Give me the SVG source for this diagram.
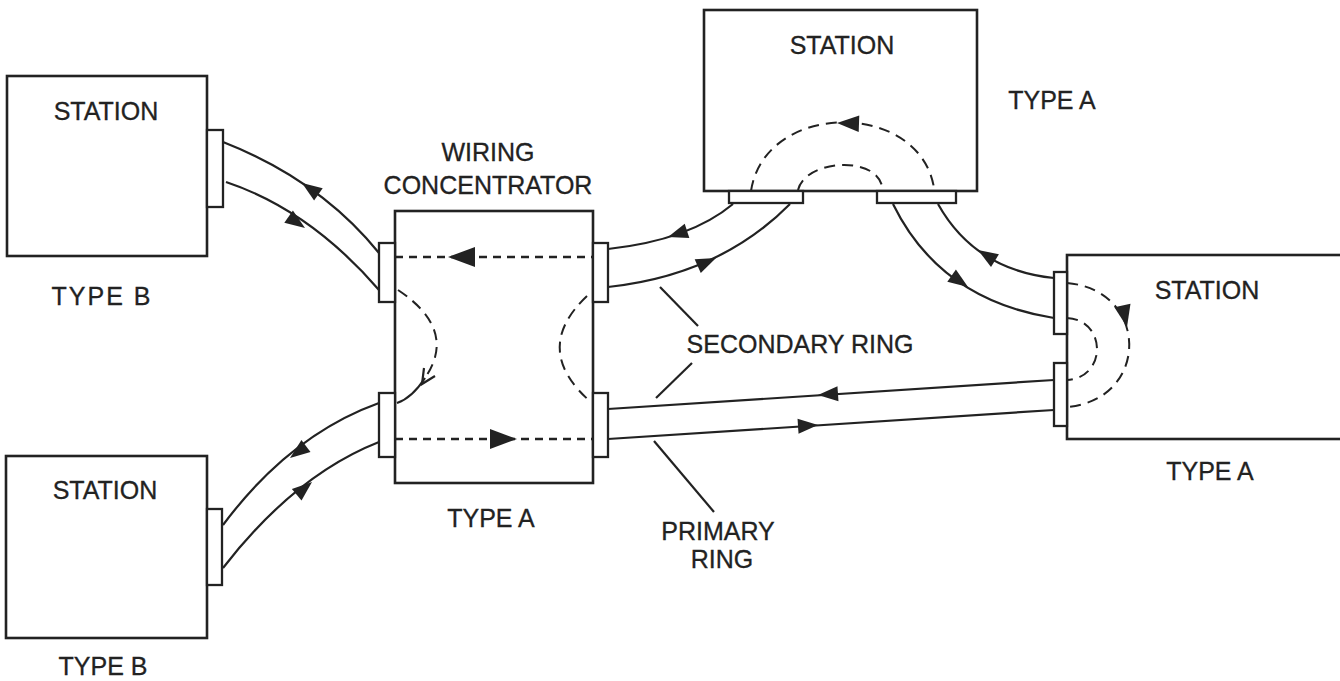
<svg xmlns="http://www.w3.org/2000/svg" width="1340" height="681" viewBox="0 0 1340 681">
<style>
.box{fill:#fff;stroke:#222;stroke-width:2.6}
.port{fill:#fff;stroke:#222;stroke-width:2.3}
.w{fill:none;stroke:#222;stroke-width:2.2}
.d{fill:none;stroke:#222;stroke-width:2.4;stroke-dasharray:8 6}
.dc{fill:none;stroke:#222;stroke-width:2;stroke-dasharray:11 7}
.ah{fill:#222}
text{font-family:"Liberation Sans",Arial,sans-serif;font-size:25px;fill:#222;stroke:#222;stroke-width:0.3;text-anchor:middle}
</style>
<defs>
<path id="a" d="M0,0 L-20,-7.5 L-20,7.5 Z"/>
<path id="A" d="M0,0 L-27,-10 L-27,10 Z"/>
</defs>
<g id="station-b1">
<rect class="box" x="7" y="76" width="200" height="180"/>
<rect class="port" x="207" y="130" width="16" height="77"/>
<text x="106" y="120">STATION</text>
<text x="102" y="305" letter-spacing="2">TYPE  B</text>
</g>
<g id="station-b2">
<rect class="box" x="6" y="456" width="201" height="182"/>
<rect class="port" x="207" y="509" width="15" height="76"/>
<text x="105" y="499">STATION</text>
<text x="103" y="675">TYPE B</text>
</g>
<g id="concentrator">
<rect class="box" x="395" y="211" width="198" height="272"/>
<rect class="port" x="379" y="243" width="16" height="59"/>
<rect class="port" x="379" y="393" width="16" height="64"/>
<rect class="port" x="593" y="243" width="15" height="59"/>
<rect class="port" x="593" y="393" width="15" height="64"/>
<text x="488" y="161">WIRING</text>
<text x="488" y="194">CONCENTRATOR</text>
<text x="491" y="527">TYPE A</text>
</g>
<g id="station-a-top">
<rect class="box" x="704" y="10" width="273" height="181"/>
<rect class="port" x="729" y="191" width="74" height="12"/>
<rect class="port" x="877" y="191" width="79" height="12"/>
<text x="842" y="54">STATION</text>
<text x="1052" y="109">TYPE A</text>
</g>
<g id="station-a-right">
<rect class="box" x="1067" y="255" width="290" height="184"/>
<rect class="port" x="1054" y="272" width="13" height="62"/>
<rect class="port" x="1054" y="363" width="13" height="63"/>
<text x="1207" y="299">STATION</text>
<text x="1210" y="480">TYPE A</text>
</g>
<g id="connectors">
<path class="w" d="M223,142 Q320,180 379,253"/>
<path class="w" d="M226,182 Q310,210 379,290"/>
<path class="w" d="M223,525 Q290,435 379,403"/>
<path class="w" d="M223,568 Q295,475 379,442"/>
<path class="w" d="M608,249 Q690,240 733,204"/>
<path class="w" d="M608,287 Q720,275 790,204"/>
<path class="w" d="M893,204 Q940,300 1054,318"/>
<path class="w" d="M938,204 Q975,270 1054,278"/>
<path class="w" d="M608,409 L1054,380"/>
<path class="w" d="M608,439 L1054,410"/>
<use href="#a" class="ah" transform="translate(302,183) rotate(215)"/>
<use href="#a" class="ah" transform="translate(305,228) rotate(35)"/>
<use href="#a" class="ah" transform="translate(290,458) rotate(143)"/>
<use href="#a" class="ah" transform="translate(312,482) rotate(-40)"/>
<use href="#a" class="ah" transform="translate(668,237) rotate(162)"/>
<use href="#a" class="ah" transform="translate(716,258) rotate(-24)"/>
<use href="#a" class="ah" transform="translate(968,287) rotate(35)"/>
<use href="#a" class="ah" transform="translate(978,250) rotate(212)"/>
<use href="#a" class="ah" transform="translate(818,395) rotate(176.3)"/>
<use href="#a" class="ah" transform="translate(818,425) rotate(-3.7)"/>
<path class="d" d="M395,257 L593,257"/>
<path class="d" d="M395,439 L593,439"/>
<use href="#A" class="ah" transform="translate(448,257) rotate(180)"/>
<use href="#A" class="ah" transform="translate(517,439)"/>
<path class="dc" d="M398,290 Q458,330 425,378"/>
<path class="w" d="M425,378 Q412,398 397,403"/>
<path class="w" d="M424,368 L422,384 L435,376"/>
<path class="dc" d="M587,296 Q530,350 592,403"/>
<path class="dc" d="M751,191 C765,100 920,100 934,188"/>
<path class="dc" d="M798,190 C805,160 875,155 882,186"/>
<use href="#a" class="ah" transform="translate(837,123) rotate(182) scale(1.1)"/>
<path class="dc" d="M1067,283 C1150,290 1150,400 1067,407"/>
<path class="dc" d="M1067,318 C1107,320 1107,378 1067,380"/>
<use href="#a" class="ah" transform="translate(1127,327) rotate(78) scale(1.1)"/>
<path class="w" d="M660,287 L698,326"/>
<path class="w" d="M692,363 L656,398"/>
<path class="w" d="M654,441 L714,512"/>
<text x="800" y="353">SECONDARY RING</text>
<text x="718" y="540">PRIMARY</text>
<text x="722" y="568">RING</text>
</g>
</svg>
